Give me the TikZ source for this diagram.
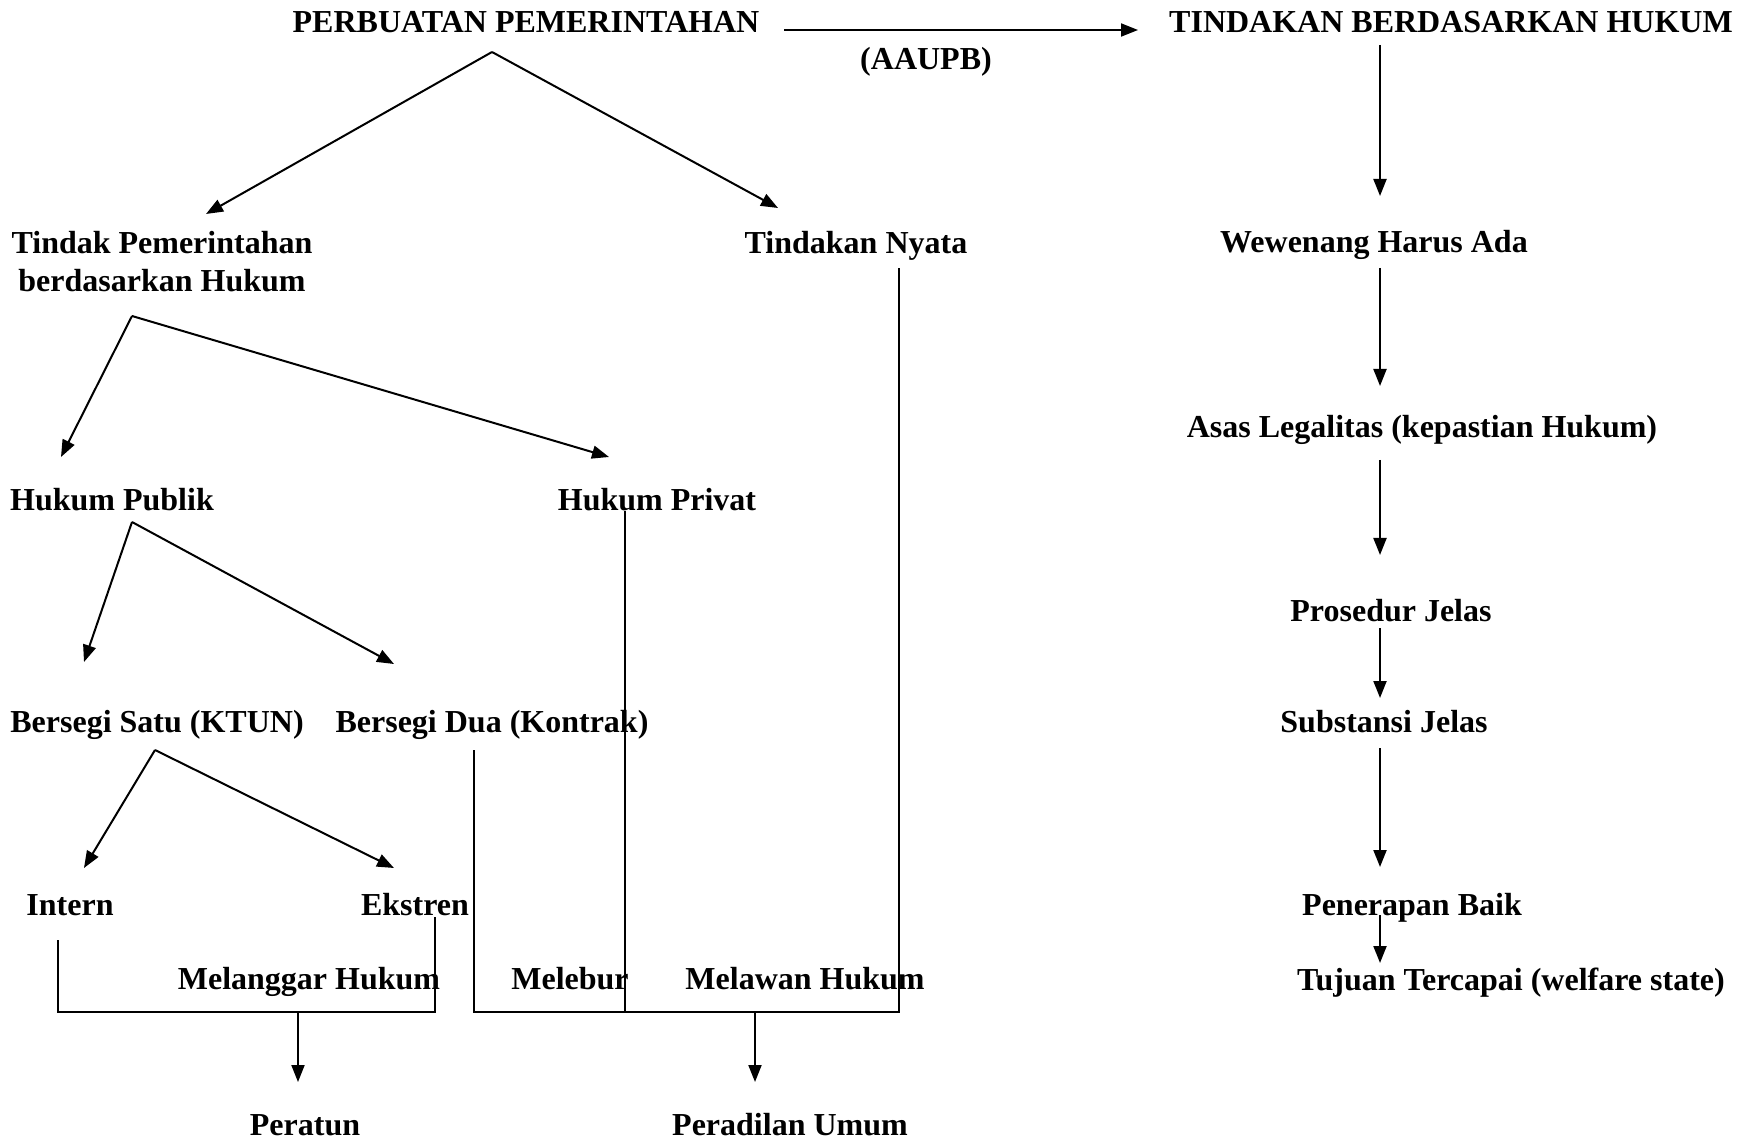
\documentclass[tikz,border=0pt]{standalone}
\usepackage{fontspec}
\setmainfont{Liberation Serif}
\usetikzlibrary{arrows.meta}

\begin{document}
\begin{tikzpicture}[x=0.5pt, y=-0.5pt, line width=1pt,
                    lbl/.style={font=\fontsize{16}{19}\selectfont\bfseries,
                                inner sep=0pt, anchor=base, align=center},
                    arr/.style={-{Triangle[length=8.5pt, width=6.5pt]}},
                    brk/.style={line width=0.6pt}]
  \useasboundingbox (0,0) rectangle (1749,1143);
  % labels, left part
  \node[lbl] (pp)   at (526,33)  {PERBUATAN PEMERINTAHAN};
  \node[lbl] (aaupb) at (926,70) {(AAUPB)};
  \node[lbl] (tph)  at (162,292) {Tindak Pemerintahan\\berdasarkan Hukum};
  \node[lbl] (tn)   at (856,254) {Tindakan Nyata};
  \node[lbl] (hpub) at (112,511) {Hukum Publik};
  \node[lbl] (hpriv) at (657,511) {Hukum Privat};
  \node[lbl] (bs1)  at (157,732) {Bersegi Satu (KTUN)};
  \node[lbl] (bs2)  at (492,732) {Bersegi Dua (Kontrak)};
  \node[lbl] (intern)  at (70,915)  {Intern};
  \node[lbl] (ekstren) at (415,915) {Ekstren};
  \node[lbl] (mlg) at (309,989) {Melanggar Hukum};
  \node[lbl] (mlb) at (570,989) {Melebur};
  \node[lbl] (mlw) at (805,989) {Melawan Hukum};
  \node[lbl] (peratun) at (305,1135) {Peratun};
  \node[lbl] (pu)      at (790,1135) {Peradilan Umum};
  % labels, right column
  \node[lbl] (tbh)  at (1451,33)  {TINDAKAN BERDASARKAN HUKUM};
  \node[lbl] (wha)  at (1374,253) {Wewenang Harus Ada};
  \node[lbl] (asas) at (1422,438) {Asas Legalitas (kepastian Hukum)};
  \node[lbl] (pj)   at (1391,622) {Prosedur Jelas};
  \node[lbl] (sj)   at (1384,732) {Substansi Jelas};
  \node[lbl] (pb)   at (1412,915) {Penerapan Baik};
  \node[lbl] (tt)   at (1511,990) {Tujuan Tercapai (welfare state)};

  % branch points and arrow ends
  \coordinate (pp-s)   at (492,52);
  \coordinate (tph-n)  at (206,214);
  \coordinate (tn-n)   at (778,208);
  \coordinate (tph-s)  at (132,316);
  \coordinate (hpub-n) at (61,457);
  \coordinate (hpriv-n) at (609,457);
  \coordinate (hpub-s) at (132,522);
  \coordinate (bs1-n)  at (84,662);
  \coordinate (bs2-n)  at (394,664);
  \coordinate (bs1-s)  at (155,750);
  \coordinate (intern-n)  at (84,868);
  \coordinate (ekstren-n) at (394,868);

  % tree
  \draw[arr] (pp-s) -- (tph-n);
  \draw[arr] (pp-s) -- (tn-n);
  \draw[arr] (tph-s) -- (hpub-n);
  \draw[arr] (tph-s) -- (hpriv-n);
  \draw[arr] (hpub-s) -- (bs1-n);
  \draw[arr] (hpub-s) -- (bs2-n);
  \draw[arr] (bs1-s) -- (intern-n);
  \draw[arr] (bs1-s) -- (ekstren-n);
  \draw[arr] (pp.east |- 0,30) ++(24,0) coordinate (aa-w) -- (1138,30) coordinate (tbh-w);

  % brackets to the courts
  \coordinate (k1) at (298,1012);
  \coordinate (k2) at (755,1012);
  \draw[brk] (58,940) |- (k1) -| (435,917);
  \draw[brk] (474,750) |- (k2) -| (899,268);
  \draw[brk] (625,511) -- (625,1012);
  \draw[arr] (k1) -- (298,1082) coordinate (peratun-n);
  \draw[arr] (k2) -- (755,1082) coordinate (pu-n);

  % right column
  \foreach \ya/\yb in {45/196, 268/386, 460/555, 628/698, 748/867, 915/963}
    \draw[arr] (1380,\ya) -- (1380,\yb);
\end{tikzpicture}
\end{document}
